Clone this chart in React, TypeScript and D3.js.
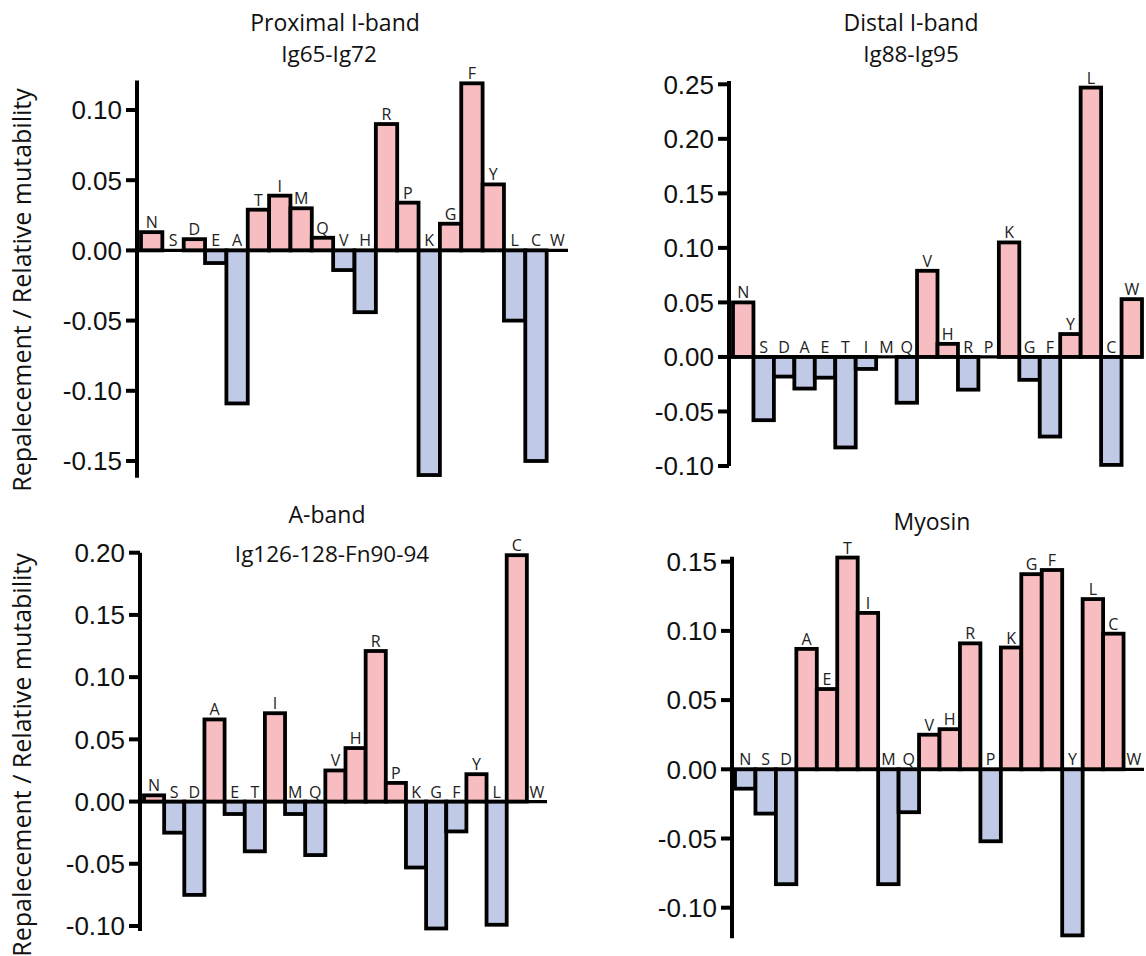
import React from 'react';
import * as d3 from 'd3';

// amino acid order per panel
const residuesProximal = ['N', 'S', 'D', 'E', 'A', 'T', 'I', 'M', 'Q', 'V', 'H', 'R', 'P', 'K', 'G', 'F', 'Y', 'L', 'C', 'W'];
const residuesOther = ['N', 'S', 'D', 'A', 'E', 'T', 'I', 'M', 'Q', 'V', 'H', 'R', 'P', 'K', 'G', 'F', 'Y', 'L', 'C', 'W'];

// replacement / relative mutability values
const proximalValues = [0.013, 0, 0.008, -0.009, -0.109, 0.029, 0.039, 0.030, 0.009, -0.014, -0.044, 0.090, 0.034, -0.160, 0.019, 0.119, 0.047, -0.050, -0.150, 0];
const distalValues = [0.050, -0.058, -0.018, -0.029, -0.019, -0.083, -0.011, 0, -0.042, 0.079, 0.012, -0.030, 0, 0.105, -0.021, -0.073, 0.021, 0.247, -0.099, 0.053];
const abandValues = [0.005, -0.025, -0.075, 0.066, -0.010, -0.040, 0.071, -0.010, -0.043, 0.025, 0.043, 0.121, 0.015, -0.053, -0.102, -0.024, 0.022, -0.099, 0.198, 0];
const myosinValues = [-0.014, -0.032, -0.083, 0.087, 0.058, 0.153, 0.113, -0.083, -0.031, 0.025, 0.029, 0.091, -0.052, 0.088, 0.141, 0.144, -0.120, 0.123, 0.098, 0];

const proximalTicks = [0.10, 0.05, 0.00, -0.05, -0.10, -0.15];
const distalTicks = [0.25, 0.20, 0.15, 0.10, 0.05, 0.00, -0.05, -0.10];
const abandTicks = [0.20, 0.15, 0.10, 0.05, 0.00, -0.05, -0.10];
const myosinTicks = [0.15, 0.10, 0.05, 0.00, -0.05, -0.10];

const yLabel = 'Repalecement / Relative mutability';

const PINK = '#f8bdc0';
const BLUE = '#c0cae6';
const FONT = '"Open Sans", "Noto Sans", sans-serif';
const TICK_FONT = '"Liberation Sans", Arial, sans-serif';

const panels = [
  {
    title: 'Proximal I-band', subtitle: 'Ig65-Ig72', residues: residuesProximal, values: proximalValues, ticks: proximalTicks,
    axisX: 137, bars: [141, 568], ref: [0.10, 110, -0.15, 461], extent: [-0.162, 0.121],
    titleX: 335, titleY: 31, subX: 329, subY: 62, yLabelY: 290,
  },
  {
    title: 'Distal I-band', subtitle: 'Ig88-Ig95', residues: residuesOther, values: distalValues, ticks: distalTicks,
    axisX: 729, bars: [733, 1142], ref: [0.25, 84.3, -0.10, 466], extent: [-0.10, 0.253],
    titleX: 911, titleY: 31, subX: 911, subY: 62, yLabelY: null,
  },
  {
    title: 'A-band', subtitle: 'Ig126-128-Fn90-94', residues: residuesOther, values: abandValues, ticks: abandTicks,
    axisX: 140, bars: [144, 547], ref: [0.20, 552.7, -0.10, 926], extent: [-0.104, 0.20],
    titleX: 327, titleY: 523, subX: 332, subY: 562, yLabelY: 755,
  },
  {
    title: 'Myosin', subtitle: '', residues: residuesOther, values: myosinValues, ticks: myosinTicks,
    axisX: 732, bars: [735, 1144], ref: [0.15, 561.7, -0.10, 907.7], extent: [-0.122, 0.1535],
    titleX: 932, titleY: 530, subX: 932, subY: 560, yLabelY: null,
  },
];

function Panel({ p }) {
  const x = d3.scaleBand().domain(p.residues).range(p.bars).padding(0);
  const y = d3.scaleLinear().domain([p.ref[0], p.ref[2]]).range([p.ref[1], p.ref[3]]);
  const y0 = y(0);
  const data = p.residues.map((r, i) => ({ r, v: p.values[i] }));

  return (
    <g>
      <text x={p.titleX} y={p.titleY} textAnchor="middle" fontFamily={FONT} fontSize={23} fill="#111">{p.title}</text>
      {p.subtitle && (
        <text x={p.subX} y={p.subY} textAnchor="middle" fontFamily={FONT} fontSize={22.5} fill="#111">{p.subtitle}</text>
      )}
      {p.yLabelY !== null && (
        <text transform={`translate(31, ${p.yLabelY}) rotate(-90)`} textAnchor="middle" fontFamily={FONT} fontSize={25} fill="#111">{yLabel}</text>
      )}

      {data.filter(d => d.v !== 0).map(d => (
        <rect key={d.r}
          x={x(d.r)} width={x.bandwidth()}
          y={Math.min(y(d.v), y0)} height={Math.abs(y(d.v) - y0)}
          fill={d.v > 0 ? PINK : BLUE} stroke="#000" strokeWidth={3.8} />
      ))}

      {data.map(d => (
        <text key={'l' + d.r}
          x={x(d.r) + x.bandwidth() / 2}
          y={(d.v > 0 ? y(d.v) : y0) - 4}
          textAnchor="middle" fontFamily={FONT} fontSize={16} fill="#222">{d.r}</text>
      ))}

      <line x1={p.axisX} x2={p.bars[1]} y1={y0} y2={y0} stroke="#000" strokeWidth={3.2} />
      <line x1={p.axisX} x2={p.axisX} y1={y(p.extent[0])} y2={y(p.extent[1])} stroke="#000" strokeWidth={4} />

      {p.ticks.map(t => (
        <g key={'t' + t}>
          <line x1={p.axisX - 11} x2={p.axisX} y1={y(t)} y2={y(t)} stroke="#000" strokeWidth={4} />
          <text x={p.axisX - 15} y={y(t)} dy="0.36em" textAnchor="end" fontFamily={TICK_FONT} fontSize={26} fill="#111">{t.toFixed(2)}</text>
        </g>
      ))}
    </g>
  );
}

export default function App() {
  return (
    <svg width={1146} height={956} style={{ position: 'absolute', left: 0, top: 0, background: '#fff' }}>
      {panels.map(p => <Panel key={p.title} p={p} />)}
    </svg>
  );
}
